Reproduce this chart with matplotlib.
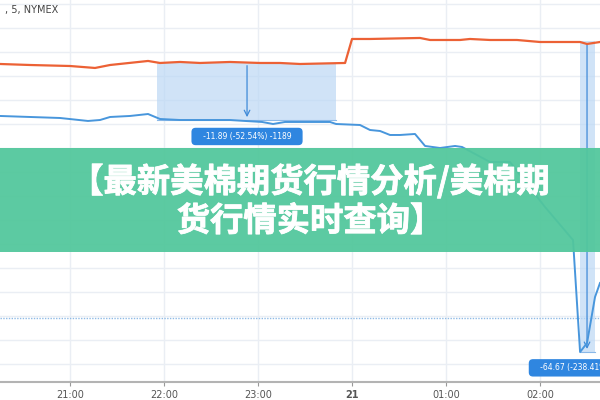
import matplotlib
matplotlib.use("Agg")
import matplotlib.pyplot as plt
import matplotlib.patheffects as pe
from matplotlib.patches import Rectangle

plt.rcParams['font.family'] = ['Noto Sans CJK SC', 'DejaVu Sans']

# time in hours (24 = midnight), prices
orange_t = [20.255, 20.574, 21.0, 21.266, 21.426, 21.83, 21.957, 22.17, 22.383,
            22.702, 23.021, 23.234, 23.447, 23.926, 24.0, 24.191, 24.723, 24.83,
            25.149, 25.255, 25.468, 25.755, 26.0, 26.426, 26.5, 26.638]
orange_p = [22.40, 22.19, 21.98, 21.57, 22.19, 23.03, 22.61, 22.82, 22.61,
            22.82, 22.61, 22.61, 22.40, 22.61, 27.61, 27.61, 27.82, 27.40,
            27.40, 27.61, 27.40, 27.40, 26.98, 26.98, 26.57, 26.98]

blue_t = [20.255, 20.574, 20.894, 21.191, 21.319, 21.426, 21.638, 21.83, 21.957,
          22.17, 22.383, 22.702, 22.862, 23.043, 23.16, 23.287, 23.447, 23.766,
          23.83, 24.085, 24.191, 24.298, 24.404, 24.511, 24.67, 24.777, 24.936,
          25.096, 25.17, 25.468, 25.681, 25.894, 26.053, 26.351, 26.426, 26.5,
          26.585, 26.638]
blue_p = [11.57, 11.36, 11.15, 10.53, 10.73, 11.36, 11.57, 11.98, 10.94,
          10.73, 10.73, 10.73, 10.53, 10.32, 9.90, 10.32, 10.32, 10.32,
          9.90, 9.69, 8.65, 8.44, 7.61, 7.61, 7.82, 5.32, 4.90,
          5.32, 5.11, 1.98, 1.98, -3.43, -7.39, -14.27, -37.60, -35.73,
          -26.14, -23.23]

# price-range measurements: (t_start, t_end, t_arrow, p_from, p_to, label)
measures = [
    (21.926, 23.83, 22.883, 22.63, 10.74, "-11.89 (-52.54%) -1189"),
    (26.426, 26.585, 26.5, 27.12, -37.55, "-64.67 (-238.41%) -6467"),
]
label_p = [7.3, -40.9]

tick_t = [21, 22, 23, 24, 25, 26]
tick_labels = ["21:00", "22:00", "23:00", "21", "01:00", "02:00"]
ref_level = -30.5

title_lines = ["【最新美棉期货行情分析/美棉期", "货行情实时查询】"]

fig = plt.figure(figsize=(6, 4), dpi=100)
ax = fig.add_axes([0, 0.045, 1, 0.955])
ax.set_xlim(20.255, 26.638)
ax.set_ylim(-43.85, 35.73)

# grid
for t in tick_t:
    ax.axvline(t, color='#eaeef4', lw=1, zorder=0)
for p in range(-40, 40, 5):
    ax.axhline(p, color='#eaeef4', lw=1, zorder=0)
ax.axhline(ref_level, color='#8fbbe6', lw=1, ls=(0, (1, 1)), zorder=1)

for t0, t1, ta, pf, pt, txt in measures:
    ax.add_patch(Rectangle((t0, pt), t1 - t0, pf - pt, facecolor='#bcd8f5',
                           alpha=0.7, edgecolor='none', zorder=2))
    ax.plot([t0, t1], [pt, pt], color='#8ab8e8', lw=0.8, zorder=2)
    ax.annotate("", xy=(ta, pt), xytext=(ta, pf),
                arrowprops=dict(arrowstyle='->', color='#3f8ad8', lw=0.9),
                zorder=3)

ax.plot(orange_t, orange_p, color='#ec6135', lw=1.6, zorder=4)
ax.plot(blue_t, blue_p, color='#4896dc', lw=1.4, zorder=4)

for (t0, t1, ta, pf, pt, txt), lp in zip(measures, label_p):
    ax.text(ta, lp, "   " + txt + "   ", ha='center', va='center',
            fontsize=5.5, color='white', family='DejaVu Sans', zorder=6,
            bbox=dict(boxstyle='round,pad=0.55', facecolor='#2f86e0',
                      edgecolor='none'))

ax.set_xticks(tick_t)
ax.set_xticklabels(tick_labels)
for lab in ax.get_xticklabels():
    lab.set_fontsize(7)
    lab.set_color('#555555')
    lab.set_family('DejaVu Sans')
ax.get_xticklabels()[3].set_fontweight('bold')
ax.tick_params(axis='x', length=3, color='#999999', pad=3)
ax.set_yticks([])
for s in ['top', 'left', 'right']:
    ax.spines[s].set_visible(False)
ax.spines['bottom'].set_color('#b3b3b3')
ax.spines['bottom'].set_linewidth(1.5)

fig.text(0.008, 0.975, ", 5, NYMEX", fontsize=7, color='#444444',
         family='DejaVu Sans', ha='left', va='center')

# green title banner over the chart
fig.patches.append(Rectangle((0, 0.37), 1, 0.26, transform=fig.transFigure,
                             facecolor='#52c79c', alpha=0.94, edgecolor='none',
                             zorder=10))
heavy = [pe.withStroke(linewidth=0.6, foreground='white')]
fig.text(0.517, 0.546, title_lines[0], fontsize=24, fontweight='bold',
         color='white', ha='center', va='center', zorder=11, path_effects=heavy)
fig.text(0.517, 0.446, title_lines[1], fontsize=24, fontweight='bold',
         color='white', ha='center', va='center', zorder=11, path_effects=heavy)

fig.savefig("out.png", dpi=100)
